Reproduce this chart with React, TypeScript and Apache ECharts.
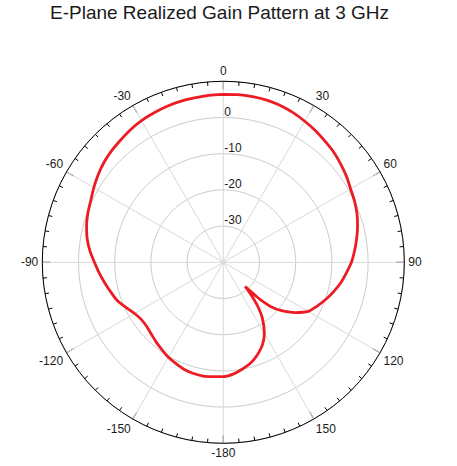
import { useEffect, useRef } from "react";
import * as echarts from "echarts";

// angle (deg, 0 = broadside, clockwise positive) and realized gain (dB)
const angles = [
  -180, -175, -170, -165, -160, -155, -150, -145, -140, -135, -130, -125,
  -120, -115, -110, -105, -100, -95, -90, -85, -80, -75, -70, -65,
  -60, -55, -50, -45, -40, -35, -30, -25, -20, -15, -10, -5,
  0, 5, 10, 15, 20, 25, 30, 35, 40, 45, 50, 55,
  60, 65, 70, 75, 80, 85, 90, 95, 100, 105, 110, 115,
  120, 125, 130, 133, 135, 136, 137, 138, 139, 140, 142, 145,
  150, 155, 160, 165, 170, 175, 180,
];
const gains = [
  -8.4, -8.3, -8.1, -8.2, -8.5, -9.1, -9.7, -10.5, -11.2, -11.9, -12.4, -12.4,
  -11.7, -10.4, -8.9, -7.9, -6.8, -5.6, -4.4, -3.0, -1.8, -0.9, -0.2, 0.4,
  1.3, 2.2, 3.0, 3.6, 4.1, 4.7, 5.2, 5.5, 5.8, 6.0, 6.1, 6.3,
  6.4, 6.5, 6.5, 6.4, 6.1, 5.6, 5.0, 4.4, 3.7, 3.1, 2.3, 1.5,
  0.6, 0.0, -0.7, -1.6, -2.6, -3.6, -4.6, -5.9, -7.1, -8.5, -9.9, -11.4,
  -12.9, -15.8, -19.3, -22.0, -25.0, -27.2, -29.5, -31.0, -29.0, -27.4, -24.5, -21.2,
  -17.3, -14.6, -12.7, -11.1, -10.0, -9.0, -8.4,
];
const ringLabels = [0, -10, -20, -30];
const title = "E-Plane Realized Gain Pattern at 3 GHz";
const font = "Liberation Sans, Arial, sans-serif";

export default function App() {
  const chartRef = useRef(null);
  useEffect(() => {
    const chart = echarts.init(chartRef.current, null, { renderer: "svg" });

    // axis runs 0..360, so negative angles wrap round
    const pos = angles.map((a, i) => [gains[i], a]).filter((p) => p[1] >= 0);
    const neg = angles
      .map((a, i) => [gains[i], a + 360])
      .filter((p) => p[1] > 180 && p[1] < 360);
    const data = [...pos, ...neg, [pos[0][0], 360]];

    const option = {
      animation: false,
      title: {
        text: title,
        left: 50,
        top: 3,
        padding: 0,
        textStyle: {
          fontSize: 19,
          fontWeight: "normal",
          color: "#1a1a1a",
          fontFamily: font,
        },
      },
      polar: { center: [223.3, 262.3], radius: 181 },
      angleAxis: {
        type: "value",
        min: 0,
        max: 360,
        interval: 30,
        startAngle: 90,
        clockwise: true,
        axisLine: { lineStyle: { color: "#000", width: 1 } },
        axisTick: { inside: true, length: 8, lineStyle: { color: "#000" } },
        minorTick: { show: true, splitNumber: 6, length: 4, lineStyle: { color: "#000" } },
        axisLabel: {
          margin: 4,
          fontSize: 12,
          color: "#1a1a1a",
          fontFamily: font,
          formatter: (v: number) =>
            v === 360 ? "" : v === 180 ? "-180" : v > 180 ? String(v - 360) : String(v),
        },
        splitLine: { show: true, lineStyle: { color: "#d9d9d9" } },
      },
      radiusAxis: {
        type: "value",
        min: -40,
        max: 10,
        interval: 10,
        axisLine: { show: false },
        axisTick: { show: false },
        axisLabel: {
          align: "left",
          verticalAlign: "bottom",
          margin: -1,
          fontSize: 12,
          color: "#1a1a1a",
          fontFamily: font,
          formatter: (v: number) => (ringLabels.includes(v) ? String(v) : ""),
        },
        splitLine: { show: true, lineStyle: { color: "#cccccc" } },
      },
      series: [
        {
          type: "line",
          coordinateSystem: "polar",
          data,
          symbol: "none",
          smooth: 0.3,
          lineStyle: { color: "#ed1c24", width: 2.8 },
        },
      ],
    };
    chart.setOption(option);
    return () => {
      chart.dispose();
    };
  }, []);

  return (
    <div
      ref={chartRef}
      style={{ position: "absolute", left: 0, top: 0, width: 457, height: 466 }}
    ></div>
  );
}
